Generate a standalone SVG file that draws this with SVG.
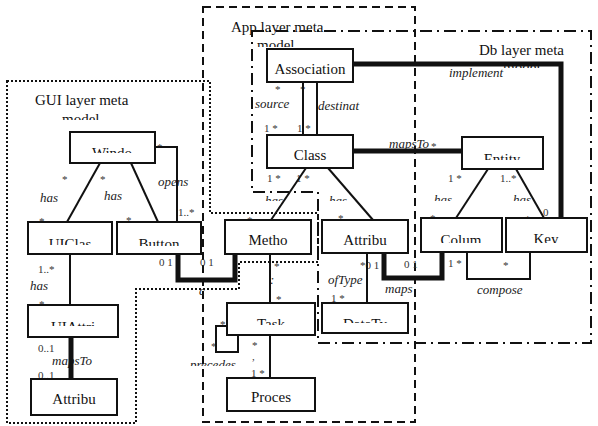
<svg xmlns="http://www.w3.org/2000/svg" width="598" height="426" viewBox="0 0 598 426">
<style>
.layer{fill:none;stroke:#111;stroke-width:2}
.app{stroke-dasharray:8 5}
.db{stroke-dasharray:12 5 2 5}
.gui{stroke-dasharray:2 2}
.node rect{fill:#fff;stroke:#111;stroke-width:2}
text{font-family:"Liberation Serif","Times New Roman","DejaVu Serif",serif}
.nt{font-size:15px;text-anchor:middle;fill:#111}
.lt{font-size:15px;fill:#111}
.lbl{font-size:13px;font-style:italic;fill:#222}
.m{font-size:11px;fill:#333}
.thin{fill:none;stroke:#111;stroke-width:2}
.thick{fill:none;stroke:#111;stroke-width:5}
</style>
<defs>
<clipPath id="cGuiModel"><rect x="0" y="100" width="200" height="20"/></clipPath>
<clipPath id="cAppModel"><rect x="240" y="35" width="100" height="12"/></clipPath>
<clipPath id="cDbModel"><rect x="490" y="55" width="80" height="13"/></clipPath>
<clipPath id="cWin"><rect x="70" y="132" width="85" height="21"/></clipPath>
<clipPath id="cUIClas"><rect x="28" y="222" width="84" height="23"/></clipPath>
<clipPath id="cButton"><rect x="117" y="222" width="84" height="24"/></clipPath>
<clipPath id="cColum"><rect x="421" y="218" width="81" height="25"/></clipPath>
<clipPath id="cKey"><rect x="506" y="218" width="81" height="25"/></clipPath>
<clipPath id="cEntity"><rect x="462" y="137" width="81" height="23"/></clipPath>
<clipPath id="cTask"><rect x="227" y="303" width="88" height="22"/></clipPath>
<clipPath id="cDataTy"><rect x="322" y="303" width="86" height="20"/></clipPath>
<clipPath id="cUIAttri"><rect x="28" y="305" width="90" height="21"/></clipPath>
<clipPath id="cHas"><rect x="200" y="185" width="398" height="16"/></clipPath>
<clipPath id="cPrec"><rect x="180" y="350" width="70" height="16"/></clipPath>
</defs>

<g id="layers">
<polygon id="gui-layer" class="layer gui" points="7,81 210,81 210,213 318,213 318,262 239,262 239,289 136,289 136,423 7,423"/>
<rect id="app-layer" class="layer app" x="203" y="7" width="212" height="415"/>
<polygon id="db-layer" class="layer db" points="252,31 591,31 591,343 318,343 318,192 252,192"/>
<text class="lt" x="35" y="105">GUI layer meta</text>
<text class="lt" x="62" y="124" clip-path="url(#cGuiModel)">model</text>
<text class="lt" x="231" y="32">App layer meta</text>
<text class="lt" x="257" y="50" clip-path="url(#cAppModel)">model</text>
<text class="lt" x="479" y="55">Db layer meta</text>
<text class="lt" x="503" y="72" clip-path="url(#cDbModel)">model</text>
</g>

<g id="labels">
<text class="lbl" x="40" y="202">has</text>
<text class="lbl" x="104" y="200">has</text>
<text class="lbl" x="158" y="186">opens</text>
<text class="lbl" x="30" y="290">has</text>
<text class="lbl" x="52" y="365">mapsTo</text>
<text class="lbl" x="255" y="108">source</text>
<text class="lbl" x="318" y="110">destinat</text>
<text class="lbl" x="449" y="77">implement</text>
<text class="lbl" x="389" y="148">mapsTo</text>
<text class="lbl" x="265" y="205" clip-path="url(#cHas)">has</text>
<text class="lbl" x="329" y="205" clip-path="url(#cHas)">has</text>
<text class="lbl" x="434" y="204" clip-path="url(#cHas)">has</text>
<text class="lbl" x="513" y="204" clip-path="url(#cHas)">has</text>
<text class="lbl" x="328" y="284">ofType</text>
<text class="lbl" x="385" y="293">maps</text>
<text class="lbl" x="477" y="294">compose</text>
<text class="lbl" x="190" y="369" clip-path="url(#cPrec)">precedes</text>
<text class="lbl" x="199" y="295">c</text>
<text class="lbl" x="270" y="284">:</text>

<text class="m" x="62" y="183">*</text>
<text class="m" x="100" y="183">*</text>
<text class="m" x="39" y="225">*</text>
<text class="m" x="126" y="224">*</text>
<text class="m" x="157" y="151">*</text>
<text class="m" x="178" y="216">1..*</text>
<text class="m" x="38" y="273">1..*</text>
<text class="m" x="39" y="308">*</text>
<text class="m" x="38" y="352">0..1</text>
<text class="m" x="38" y="379">0..1</text>
<text class="m" x="159" y="266">0 1</text>
<text class="m" x="200" y="266">0 1</text>
<text class="m" x="275" y="93">*</text>
<text class="m" x="300" y="93">*</text>
<text class="m" x="339" y="58">0</text>
<text class="m" x="264" y="132">1 *</text>
<text class="m" x="297" y="132">1  *</text>
<text class="m" x="345" y="149">*</text>
<text class="m" x="431" y="150">*</text>
<text class="m" x="267" y="182">1 *</text>
<text class="m" x="296" y="182">1 *</text>
<text class="m" x="247" y="224">*</text>
<text class="m" x="338" y="222">*</text>
<text class="m" x="448" y="182">1 *</text>
<text class="m" x="500" y="182">1..*</text>
<text class="m" x="430" y="222">*</text>
<text class="m" x="525" y="223">*</text>
<text class="m" x="543" y="216">0</text>
<text class="m" x="360" y="269">*0 1</text>
<text class="m" x="404" y="268">0 1</text>
<text class="m" x="448" y="267">1 *</text>
<text class="m" x="503" y="269">*</text>
<text class="m" x="331" y="302">1 *</text>
<text class="m" x="274" y="270">*</text>
<text class="m" x="276" y="303">*</text>
<text class="m" x="220" y="328">*</text>
<text class="m" x="211" y="350">*</text>
<text class="m" x="252" y="349">*</text>
<text class="m" x="252" y="360">,</text>
<text class="m" x="251" y="377">1 *</text>
</g>

<g id="connectors">
<line class="thin" x1="100" y1="163" x2="67" y2="222"/>
<line class="thin" x1="131" y1="163" x2="158" y2="222"/>
<polyline class="thin" points="155,147 177,147 177,222"/>
<line class="thin" x1="70" y1="254" x2="70" y2="305"/>
<line class="thick" x1="71" y1="337" x2="71" y2="379"/>
<polyline class="thick" points="178,254 178,280 235,280 235,254"/>
<line class="thin" x1="303" y1="82" x2="303" y2="135"/>
<line class="thin" x1="317" y1="82" x2="317" y2="135"/>
<polyline class="thick" points="353,64 561,64 561,218"/>
<line class="thick" x1="353" y1="151" x2="462" y2="151"/>
<line class="thin" x1="306" y1="168" x2="271" y2="220"/>
<line class="thin" x1="328" y1="168" x2="373" y2="220"/>
<line class="thin" x1="488" y1="169" x2="456" y2="218"/>
<line class="thin" x1="516" y1="169" x2="544" y2="218"/>
<polyline class="thick" points="384,253 384,278 442,278 442,252"/>
<line class="thin" x1="367" y1="253" x2="367" y2="303"/>
<polyline class="thin" points="467,252 467,279 530,279 530,252"/>
<line class="thin" x1="270" y1="254" x2="270" y2="303"/>
<polyline class="thin" points="227,326 216,326 216,352 238,352 238,335"/>
<line class="thin" x1="270" y1="335" x2="270" y2="378"/>
</g>

<g id="n-window" class="node"><rect x="70" y="132" width="85" height="31"/><text class="nt" x="112" y="158" clip-path="url(#cWin)">Windo</text></g>
<g id="n-uiclas" class="node"><rect x="28" y="222" width="84" height="32"/><text class="nt" x="70" y="249" clip-path="url(#cUIClas)">UIClas</text></g>
<g id="n-button" class="node"><rect x="117" y="222" width="84" height="32"/><text class="nt" x="159" y="249" clip-path="url(#cButton)">Button</text></g>
<g id="n-uiattri" class="node"><rect x="28" y="305" width="90" height="32"/><text class="nt" x="73" y="332" clip-path="url(#cUIAttri)">UIAttri</text></g>
<g id="n-gui-attribu" class="node"><rect x="31" y="379" width="86" height="36"/><text class="nt" x="74" y="404">Attribu</text></g>
<g id="n-association" class="node"><rect x="267" y="49" width="86" height="33"/><text class="nt" x="310" y="74">Association</text></g>
<g id="n-class" class="node"><rect x="267" y="135" width="86" height="33"/><text class="nt" x="310" y="160">Class</text></g>
<g id="n-metho" class="node"><rect x="225" y="220" width="86" height="34"/><text class="nt" x="268" y="245">Metho</text></g>
<g id="n-app-attribu" class="node"><rect x="322" y="220" width="86" height="33"/><text class="nt" x="365" y="245">Attribu</text></g>
<g id="n-task" class="node"><rect x="227" y="303" width="88" height="32"/><text class="nt" x="271" y="329" clip-path="url(#cTask)">Task</text></g>
<g id="n-proces" class="node"><rect x="227" y="378" width="88" height="33"/><text class="nt" x="271" y="402">Proces</text></g>
<g id="n-datatype" class="node"><rect x="322" y="303" width="86" height="30"/><text class="nt" x="365" y="329" clip-path="url(#cDataTy)">DataTy</text></g>
<g id="n-entity" class="node"><rect x="462" y="137" width="81" height="32"/><text class="nt" x="502" y="164" clip-path="url(#cEntity)">Entity</text></g>
<g id="n-colum" class="node"><rect x="421" y="218" width="81" height="34"/><text class="nt" x="461" y="245" clip-path="url(#cColum)">Colum</text></g>
<g id="n-key" class="node"><rect x="506" y="218" width="81" height="34"/><text class="nt" x="546" y="244" clip-path="url(#cKey)">Key</text></g>
</svg>
